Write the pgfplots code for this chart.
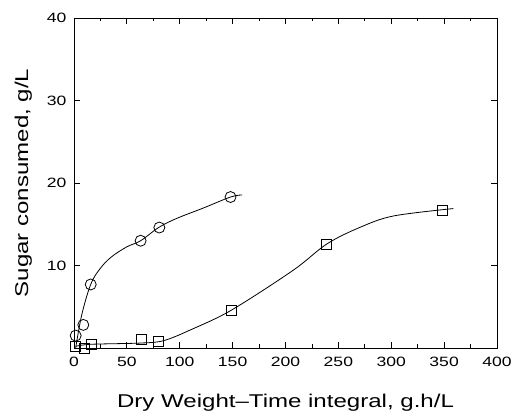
\documentclass[border=0pt]{standalone}
\usepackage{fontspec}
\setmainfont{Liberation Sans}[FakeStretch=1.3]
\usepackage{pgfplots}
\pgfplotsset{compat=1.18}

\begin{document}
\begin{tikzpicture}
\begin{axis}[
  name=ax,
  scale only axis,
  width=423pt, height=330pt,
  xmin=0, xmax=400, ymin=0, ymax=40,
  xtick={0,50,...,400},
  minor x tick num=1,
  ytick={10,20,30,40},
  tick align=inside,
  major tick length=6pt,
  minor tick length=3.5pt,
  axis line style={line width=0.9pt},
  tick style={line width=0.8pt, black},
  /pgf/number format/assume math mode=true,
  ticklabel style={font=\fontsize{13.5}{15}\selectfont},
  xticklabel style={yshift=-6pt},
  yticklabel style={xshift=-4pt},
  xlabel={Dry Weight--Time integral, g.h/L},
  ylabel={Sugar consumed, g/L},
  label style={font=\fontsize{18.5}{20}\selectfont},
  xlabel style={yshift=-20pt},
  ylabel style={yshift=8pt},
  clip=false,
]
% fitted curves
\addplot[black, line width=0.8pt, smooth, tension=0.6] coordinates {
  (1.6,0) (7.3,4.0) (15.8,7.7) (24.6,9.6) (35,11.0) (49.8,12.25) (63,13.0) (80,14.6) (97,15.7) (123,17.0) (148,18.3) (159,18.55)};
\addplot[black, line width=0.8pt, smooth, tension=0.55] coordinates {
  (1.5,0.2) (16,0.45) (63,0.6) (85,0.9) (112,2.3) (149,4.6) (207,9.4) (239,12.6) (270,14.6) (302,16.0) (358.7,16.9)};
% circles
\addplot[only marks, mark=o, mark size=5.5pt, black, mark options={line width=0.8pt, fill=white}] coordinates {
  (1.6,1.5) (8.8,2.8) (15.8,7.7) (63,13.0) (80.7,14.6) (148,18.3)};
% squares
\addplot[only marks, mark=square, mark size=5pt, black, mark options={line width=0.8pt, fill=white}] coordinates {
  (1.6,0.2) (9.5,0.0) (16,0.4) (63.4,1.0) (80,0.8) (149,4.6) (239,12.6) (348.6,16.7)};
\end{axis}
\pgfresetboundingbox
\path ([shift={(-74pt,-68pt)}]ax.south west) rectangle ([shift={(19pt,18pt)}]ax.north east);
\end{tikzpicture}
\end{document}
